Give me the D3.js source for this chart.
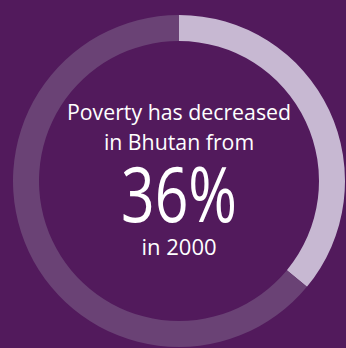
<!DOCTYPE html>
<html>
<head>
<meta charset="utf-8">
<script src="https://cdn.jsdelivr.net/npm/d3@7"></script>
<style>
  html, body { margin: 0; padding: 0; background: #521a5c; }
  svg { display: block; }
</style>
</head>
<body>
<svg id="chart" width="346" height="348"></svg>
<script>
// Share of population in poverty, Bhutan, 2000
const segments = ["In poverty", "Rest"];
const shares = [36, 64];
const segmentColors = ["#c7b8d2", "#6a4275"];
const headlineLines = ["Poverty has decreased", "in Bhutan from"];
const valueLabel = "36%";
const yearLabel = "in 2000";

const width = 346, height = 348;
const cx = 179, cy = 181;
const outerR = 166, innerR = 140;

const svg = d3.select("#chart");

svg.append("rect")
  .attr("width", width).attr("height", height)
  .attr("fill", "#521a5c");

const pie = d3.pie().sort(null).value(d => d.value);
const arc = d3.arc().innerRadius(innerR).outerRadius(outerR);
const data = segments.map((s, i) => ({ name: s, value: shares[i], color: segmentColors[i] }));

const g = svg.append("g").attr("transform", `translate(${cx},${cy})`);
g.selectAll("path")
  .data(pie(data))
  .join("path")
  .attr("d", arc)
  .attr("fill", d => d.data.color);

const font = "'Open Sans', sans-serif";
const text = g.append("g")
  .attr("fill", "#ffffff")
  .attr("text-anchor", "middle")
  .style("font-family", font);

text.selectAll("text.head")
  .data(headlineLines)
  .join("text")
  .attr("class", "head")
  .attr("x", 0)
  .attr("y", (d, i) => -61 + i * 30)
  .attr("font-size", 21.3)
  .text(d => d);

// big figure, narrowed to the condensed look of the headline type
text.append("text")
  .attr("x", 0).attr("y", 41)
  .attr("font-size", 77)
  .attr("font-weight", 400)
  .attr("textLength", 116)
  .attr("lengthAdjust", "spacingAndGlyphs")
  .text(valueLabel);

text.append("text")
  .attr("x", 0).attr("y", 74)
  .attr("font-size", 22)
  .text(yearLabel);
</script>
</body>
</html>
